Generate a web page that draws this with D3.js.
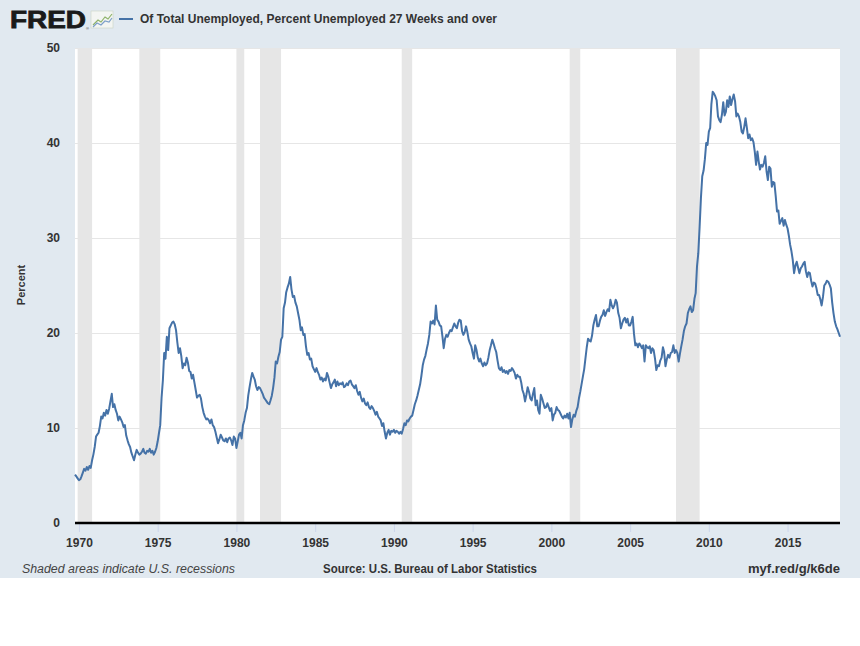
<!DOCTYPE html>
<html>
<head>
<meta charset="utf-8">
<script src="https://cdn.jsdelivr.net/npm/d3@7"></script>
<style>
  body { margin: 0; background: #fff; }
  svg text { font-family: "Liberation Sans", Arial, sans-serif; }
</style>
</head>
<body>
<div id="chart"></div>
<script>
// monthly series, first value = Oct 1969
var startYear = 1969, startMonth = 10;
var values = [
  5.1, 4.9, 4.7,                                                   // 1969 Oct-Dec
  4.5, 4.6, 4.9, 5.3, 5.7, 5.5, 5.9, 5.6, 6.0, 5.8, 6.6, 7.2,      // 1970
  8.0, 9.1, 9.3, 9.5, 10.2, 11.2, 11.0, 11.6, 11.3, 11.9, 11.5, 12.0,
  12.8, 13.6, 12.2, 12.5, 11.9, 11.5, 10.8, 11.2, 10.9, 10.6, 10.1, 10.3,
  9.2, 8.7, 8.3, 8.0, 7.4, 7.0, 6.6, 7.2, 7.7, 7.4, 7.2, 7.3,
  7.5, 7.8, 7.4, 7.3, 7.6, 7.5, 7.8, 7.4, 7.6, 7.2, 7.5, 7.9,
  8.6, 9.5, 10.3, 13.2, 15.0, 17.9, 17.3, 19.6, 18.2, 20.5, 20.8, 21.1, // 1975
  21.2, 20.9, 20.3, 19.0, 17.9, 18.4, 17.6, 16.3, 16.8, 16.6, 17.4, 16.9,
  16.0, 15.9, 15.2, 15.6, 14.8, 14.0, 13.2, 13.4, 13.5, 13.1, 12.2, 11.6,
  11.2, 10.9, 11.0, 10.8, 10.5, 10.9, 10.3, 10.1, 9.6, 9.0, 8.4, 8.8,
  9.3, 9.0, 8.7, 8.6, 8.9, 8.5, 8.9, 9.0, 8.7, 8.2, 9.1, 8.9,
  7.9, 8.6, 9.3, 9.5, 8.9, 10.3, 10.8, 11.6, 12.1, 13.4, 14.3, 15.1, // 1980
  15.8, 15.4, 15.1, 14.4, 14.0, 14.3, 14.2, 13.9, 13.6, 13.2, 13.0, 12.8,
  12.6, 12.5, 12.9, 13.4, 14.2, 15.3, 17.0, 16.8, 17.5, 18.0, 19.3, 19.6,
  22.6, 23.2, 24.3, 24.8, 25.2, 25.9, 24.6, 23.8, 23.9, 23.2, 22.8, 22.1,
  21.4, 20.3, 20.6, 19.8, 19.9, 18.6, 17.7, 17.9, 17.2, 17.3, 16.5, 16.2,
  15.9, 16.3, 15.9, 15.6, 15.1, 15.3, 14.9, 15.2, 15.0, 15.8, 15.4, 14.8, // 1985
  14.2, 14.6, 14.8, 15.1, 14.4, 14.9, 14.5, 14.7, 14.6, 14.8, 14.3, 14.4,
  14.7, 14.5, 14.9, 15.0, 14.6, 14.4, 14.2, 14.5, 13.9, 13.5, 13.8, 13.2,
  12.8, 13.1, 12.6, 12.4, 12.7, 12.2, 12.0, 12.3, 12.1, 11.8, 11.4, 11.7,
  11.2, 11.0, 10.8, 10.2, 10.5, 9.6, 8.9, 9.5, 9.8, 9.3, 9.7, 9.6,
  9.8, 9.5, 9.7, 9.6, 9.4, 9.6, 9.4, 9.9, 10.5, 10.3, 10.8, 10.7,   // 1990
  11.0, 11.2, 11.3, 11.9, 12.5, 12.9, 13.4, 14.0, 14.6, 15.5, 16.6, 17.2,
  17.6, 18.3, 18.9, 19.8, 21.2, 21.0, 21.3, 20.9, 22.9, 21.4, 21.2, 20.8,
  20.7, 19.6, 18.4, 19.4, 19.8, 19.6, 20.0, 20.3, 20.2, 20.6, 21.0, 20.7,
  20.5, 21.1, 21.4, 21.3, 20.2, 19.8, 20.1, 20.7, 20.1, 19.3, 18.9, 18.6,
  17.9, 17.3, 18.7, 18.2, 17.4, 17.0, 17.3, 16.8, 16.5, 16.9, 16.6, 16.8, // 1995
  17.4, 18.2, 18.7, 19.3, 18.9, 18.4, 18.0, 17.1, 16.3, 16.1, 16.4, 15.9,
  16.1, 15.8, 16.0, 15.7, 16.1, 16.0, 16.3, 16.1, 15.8, 15.2, 15.6, 15.4,
  15.4, 14.8, 14.0, 13.6, 12.8, 13.5, 14.3, 13.8, 13.1, 12.9, 13.6, 14.2,
  12.4, 12.9, 11.9, 11.5, 13.5, 13.1, 12.6, 12.1, 12.2, 12.6, 12.2, 11.8,
  12.1, 10.8, 11.4, 11.6, 12.2, 11.9, 11.8, 11.5, 11.2, 11.0, 11.3, 11.1, // 2000
  11.5, 11.0, 11.6, 10.1, 10.9, 11.4, 11.2, 11.8, 12.2, 13.1, 13.8, 14.6,
  15.4, 16.2, 17.3, 18.5, 19.4, 19.2, 19.1, 19.7, 20.8, 21.4, 21.9, 20.7,
  20.7, 21.3, 21.7, 21.9, 22.4, 21.8, 22.2, 22.5, 22.3, 23.5, 22.9, 22.6,
  22.9, 23.5, 23.2, 22.1, 21.6, 20.5, 21.0, 21.4, 21.6, 21.1, 21.5, 20.8,
  20.8, 21.2, 21.7, 19.9, 18.7, 18.9, 18.5, 18.9, 18.7, 18.4, 18.7, 17.0, // 2005
  18.7, 18.5, 18.4, 18.6, 17.9, 18.4, 18.2, 17.3, 16.1, 16.6, 16.5, 17.1,
  17.4, 18.5, 18.0, 16.5, 17.2, 17.7, 17.4, 17.9, 18.0, 18.7, 17.9, 18.2,
  17.9, 17.0, 17.8, 18.6, 19.3, 20.2, 20.7, 21.0, 22.1, 22.5, 22.8, 22.2,
  22.4, 23.6, 24.2, 27.0, 28.4, 31.2, 34.2, 36.5, 37.1, 38.3, 40.0, 39.8,
  41.2, 41.6, 44.1, 45.4, 45.2, 44.9, 44.5, 42.8, 42.4, 42.2, 43.0, 44.3, // 2010
  42.9, 43.3, 44.5, 43.8, 44.9, 44.0, 44.6, 45.1, 44.4, 42.8, 43.1, 42.8,
  42.2, 41.2, 41.0, 41.7, 42.6, 41.6, 40.5, 40.9, 40.3, 40.5, 40.1, 39.1,
  37.7, 39.1, 38.1, 37.2, 37.7, 37.5, 37.9, 38.6, 37.0, 36.1, 37.5, 37.3,
  35.4, 35.9, 35.8, 34.4, 32.8, 32.9, 31.5, 31.8, 32.1, 31.3, 31.9, 31.4,
  31.0, 30.2, 29.3, 28.6, 27.7, 26.3, 27.1, 27.5, 26.9, 26.3, 26.8, 27.0, // 2015
  27.3, 27.5, 26.5, 25.9, 26.4, 26.3, 25.5, 24.9, 25.3, 25.2, 24.7, 24.0,
  24.0, 23.5, 22.9, 23.8, 25.0, 25.2, 25.5, 25.4, 25.1, 24.7, 23.2, 22.1,
  21.2, 20.7, 20.4, 20.0, 19.6                                      // 2018 Jan-May
];

var recessionStarts = ["1969-12-01", "1973-11-01", "1980-01-01", "1981-07-01", "1990-07-01", "2001-03-01", "2007-12-01"];
var recessionEnds   = ["1970-11-01", "1975-03-01", "1980-07-01", "1982-11-01", "1991-03-01", "2001-11-01", "2009-06-01"];

var yTicks = [0, 10, 20, 30, 40, 50];
var xTickYears = [1970, 1975, 1980, 1985, 1990, 1995, 2000, 2005, 2010, 2015];

var seriesTitle = "Of Total Unemployed, Percent Unemployed 27 Weeks and over";
var yAxisTitle = "Percent";
var noteText = "Shaded areas indicate U.S. recessions";
var sourceText = "Source: U.S. Bureau of Labor Statistics";
var linkText = "myf.red/g/k6de";

var W = 860, H = 646;
var plot = {left: 75, right: 840, top: 48, bottom: 523};
var parse = d3.timeParse("%Y-%m-%d");

var data = values.map(function(v, i) {
    return {date: new Date(startYear, startMonth - 1 + i, 1), value: v};
});

var svg = d3.select("#chart").append("svg")
    .attr("width", W).attr("height", H);

// panel background
svg.append("rect").attr("x", 0).attr("y", 0).attr("width", W).attr("height", 578)
    .attr("fill", "#e1e9f0");

var x = d3.scaleTime()
    .domain([data[0].date, data[data.length - 1].date])
    .range([plot.left, plot.right]);
var y = d3.scaleLinear().domain([0, 50]).range([plot.bottom, plot.top]);

svg.append("rect")
    .attr("x", plot.left).attr("y", plot.top)
    .attr("width", plot.right - plot.left).attr("height", plot.bottom - plot.top)
    .attr("fill", "#fff");

svg.append("clipPath").attr("id", "clip").append("rect")
    .attr("x", plot.left).attr("y", plot.top)
    .attr("width", plot.right - plot.left).attr("height", plot.bottom - plot.top);

// recession bars
svg.append("g").attr("clip-path", "url(#clip)")
  .selectAll("rect").data(recessionStarts).enter().append("rect")
    .attr("x", function(d) { return x(parse(d)); })
    .attr("width", function(d, i) { return x(parse(recessionEnds[i])) - x(parse(d)); })
    .attr("y", plot.top).attr("height", plot.bottom - plot.top)
    .attr("fill", "#e6e6e6");

// gridlines
svg.append("g").selectAll("line").data(yTicks.filter(function(t) { return t > 0; }))
  .enter().append("line")
    .attr("x1", plot.left).attr("x2", plot.right)
    .attr("y1", function(d) { return y(d) + 0.5; }).attr("y2", function(d) { return y(d) + 0.5; })
    .attr("stroke", "#e6e6e6").attr("stroke-width", 1);

// y axis labels
var yAxis = d3.axisLeft(y).tickValues(yTicks).tickSize(0).tickPadding(15);
var gy = svg.append("g").attr("transform", "translate(" + plot.left + ",0)").call(yAxis);
gy.select(".domain").remove();
gy.selectAll("text").attr("font-size", 12).attr("font-weight", "bold").attr("fill", "#333")
    .attr("font-family", "Liberation Sans, Arial, sans-serif");

// x axis
var xAxis = d3.axisBottom(x)
    .tickValues(xTickYears.map(function(yr) { return new Date(yr, 0, 1); }))
    .tickFormat(d3.timeFormat("%Y"))
    .tickSize(9).tickPadding(6);
var gx = svg.append("g").attr("transform", "translate(0," + plot.bottom + ")").call(xAxis);
gx.select(".domain").remove();
gx.selectAll(".tick line").attr("stroke", "#ccd6eb");
gx.selectAll("text").attr("font-size", 12).attr("font-weight", "bold").attr("fill", "#333")
    .attr("font-family", "Liberation Sans, Arial, sans-serif");

svg.append("line")
    .attr("x1", plot.left).attr("x2", plot.right)
    .attr("y1", plot.bottom).attr("y2", plot.bottom)
    .attr("stroke", "#000").attr("stroke-width", 2.5);

// series line
var line = d3.line()
    .x(function(d) { return x(d.date); })
    .y(function(d) { return y(d.value); });
svg.append("path").datum(data)
    .attr("d", line)
    .attr("fill", "none")
    .attr("stroke", "#4572a7")
    .attr("stroke-width", 2)
    .attr("stroke-linejoin", "round");

// y title
svg.append("text")
    .attr("transform", "translate(25,285) rotate(-90)")
    .attr("text-anchor", "middle")
    .attr("font-size", 11).attr("font-weight", "bold").attr("fill", "#333")
    .text(yAxisTitle);

// header: logo + legend
svg.append("text").attr("x", 10).attr("y", 28)
    .attr("font-size", 23).attr("font-weight", "bold").attr("fill", "#1a1a1a")
    .attr("stroke", "#1a1a1a").attr("stroke-width", 0.8)
    .attr("textLength", 76).attr("lengthAdjust", "spacingAndGlyphs")
    .text("FRED");
svg.append("text").attr("x", 86).attr("y", 30).attr("font-size", 4).attr("fill", "#333").text("®");
var icon = svg.append("g").attr("transform", "translate(91,11)");
icon.append("rect").attr("width", 22).attr("height", 17).attr("fill", "#f3f5f2").attr("stroke", "#c9d3c4").attr("stroke-width", 0.6);
icon.append("path").attr("d", "M2,14 L7,9 L10,11 L14,6 L17,8 L21,3").attr("fill", "none").attr("stroke", "#8fb36a").attr("stroke-width", 1.2);
icon.append("path").attr("d", "M2,16 L6,12 L10,14 L14,10 L18,11 L21,7").attr("fill", "none").attr("stroke", "#7ea0c9").attr("stroke-width", 1.2);

svg.append("line").attr("x1", 119).attr("x2", 133).attr("y1", 19).attr("y2", 19)
    .attr("stroke", "#4572a7").attr("stroke-width", 2);
svg.append("text").attr("x", 140).attr("y", 23)
    .attr("font-size", 12).attr("font-weight", "bold").attr("fill", "#333")
    .attr("textLength", 357).attr("lengthAdjust", "spacingAndGlyphs")
    .text(seriesTitle);

// footer
svg.append("text").attr("x", 22).attr("y", 573)
    .attr("font-size", 12).attr("font-style", "italic").attr("fill", "#444")
    .attr("textLength", 213).attr("lengthAdjust", "spacingAndGlyphs")
    .text(noteText);
svg.append("text").attr("x", 323).attr("y", 573)
    .attr("font-size", 12).attr("font-weight", "bold").attr("fill", "#333")
    .attr("textLength", 214).attr("lengthAdjust", "spacingAndGlyphs")
    .text(sourceText);
svg.append("text").attr("x", 748).attr("y", 573)
    .attr("font-size", 12).attr("font-weight", "bold").attr("fill", "#333")
    .attr("textLength", 92).attr("lengthAdjust", "spacingAndGlyphs")
    .text(linkText);
</script>
</body>
</html>
